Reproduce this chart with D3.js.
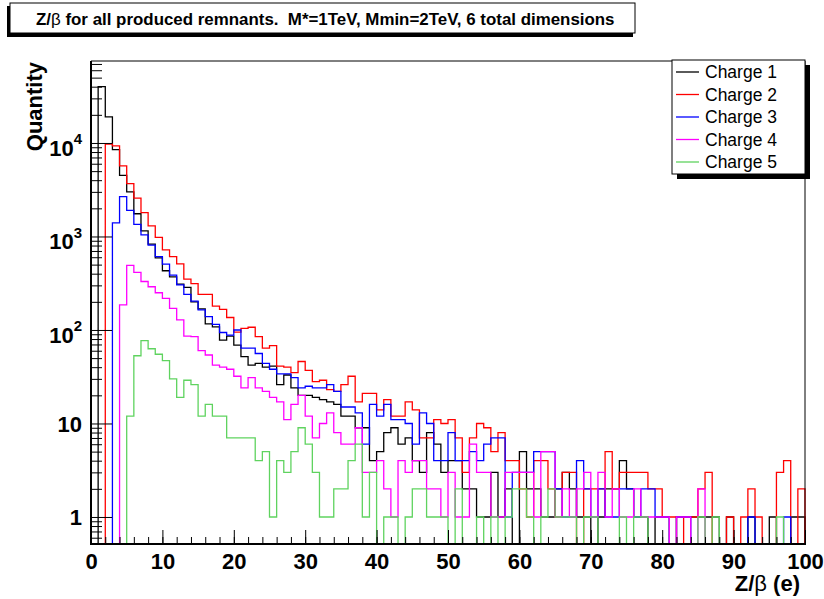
<!DOCTYPE html>
<html>
<head>
<meta charset="utf-8">
<script src="https://cdn.jsdelivr.net/npm/d3@7"></script>
<style>
body { margin: 0; background: #fff; }
svg { font-family: "Liberation Sans", Arial, Helvetica, sans-serif; }
</style>
</head>
<body>
<svg id="chart" width="824" height="599"></svg>
<script>
// counts per unit bin of Z/beta, bins 0..99
const charge1 = [0, 40000, 19000, 8500, 4500, 3000, 1750, 1150, 830, 590,
    430, 370, 310, 285, 200, 168, 116, 108, 78, 86,
    69, 52, 42, 44, 40, 41, 26, 33, 24, 20,
    20, 19, 18, 17, 16, 12, 12, 9, 9, 4,
    5, 8, 9, 6, 7, 4, 3, 8, 6, 3,
    4, 4, 2, 2, 1, 1, 3, 1, 2, 0,
    5, 2, 2, 1, 1, 2, 3, 2, 1, 1,
    0, 1, 2, 2, 4, 2, 1, 1, 0, 1,
    1, 0, 1, 1, 1, 1, 1, 1, 0, 1,
    0, 0, 1, 0, 0, 1, 0, 0, 1, 1];
const charge2 = [0, 0, 9700, 9300, 5700, 3670, 2570, 1800, 1300, 980,
    720, 610, 510, 350, 313, 240, 240, 180, 166, 136,
    95, 104, 107, 85, 64, 68, 41, 40, 35, 46,
    37, 28, 29, 23, 22, 26, 32, 17, 21, 21,
    14, 18, 12, 12, 17, 14, 7, 7, 11, 10,
    11, 7, 3, 7, 10, 9, 5, 8, 4, 4,
    2, 1, 4, 4, 2, 1, 3, 3, 0, 2,
    2, 2, 5, 2, 3, 3, 3, 3, 2, 2,
    1, 1, 0, 1, 1, 2, 3, 0, 0, 1,
    0, 1, 2, 1, 0, 0, 3, 4, 0, 2];
const charge3 = [0, 0, 0, 1400, 2670, 1900, 1350, 1040, 810, 608,
    505, 387, 303, 240, 204, 164, 139, 115, 94, 88,
    100, 64, 64, 56, 44, 38, 34, 34, 31, 24,
    25, 24, 24, 26, 22, 15, 15, 13, 6, 16,
    12, 16, 11, 11, 10, 6, 13, 10, 4, 4,
    8, 4, 4, 5, 4, 6, 7, 7, 1, 3,
    3, 3, 5, 5, 5, 2, 1, 1, 4, 2,
    1, 2, 1, 1, 2, 2, 1, 2, 2, 1,
    1, 0, 1, 1, 0, 0, 0, 0, 0, 0,
    0, 0, 1, 0, 0, 0, 0, 1, 0, 0];
const charge4 = [0, 0, 0, 0, 186, 490, 414, 330, 290, 250,
    218, 170, 128, 86, 85, 60, 54, 42, 40, 38,
    32, 24, 31, 24, 22, 19, 17, 11, 16, 20,
    12, 7, 10, 13, 8, 6, 6, 9, 3, 3,
    4, 2, 1, 4, 3, 4, 4, 2, 2, 1,
    3, 1, 1, 6, 3, 3, 1, 1, 3, 3,
    3, 3, 1, 5, 5, 1, 2, 1, 2, 3,
    1, 3, 1, 2, 1, 1, 2, 1, 1, 1,
    1, 0, 1, 1, 0, 2, 0, 0, 0, 0,
    0, 0, 0, 0, 0, 0, 0, 0, 0, 0];
const charge5 = [0, 0, 0, 0, 0, 12, 53, 77, 63, 55,
    47, 30, 19, 29, 26, 12, 16, 12, 12, 7,
    7, 7, 7, 4, 5, 1, 4, 3, 5, 9,
    6, 3, 1, 1, 2, 2, 4, 6, 1, 3,
    0, 1, 1, 0, 1, 2, 2, 1, 1, 1,
    0, 2, 0, 0, 1, 0, 1, 0, 1, 2,
    2, 1, 0, 1, 2, 1, 1, 1, 0, 1,
    1, 0, 0, 0, 1, 0, 1, 1, 0, 0,
    0, 0, 0, 0, 0, 1, 0, 1, 0, 0,
    0, 0, 0, 0, 0, 0, 1, 0, 0, 0];

const seriesNames = ["Charge 1", "Charge 2", "Charge 3", "Charge 4", "Charge 5"];
const seriesColors = ["#000000", "#ff0000", "#0000ff", "#ff00ff", "#5fd35f"];
const xTickLabels = [0, 10, 20, 30, 40, 50, 60, 70, 80, 90, 100];
const yTickValues = [1, 10, 100, 1000, 10000];
const yTickLabels = [["1", ""], ["10", ""], ["10", "2"], ["10", "3"], ["10", "4"]];

const allSeries = [charge1, charge2, charge3, charge4, charge5];

const svg = d3.select("#chart");
const frame = {left: 91, top: 61, right: 805, bottom: 544};
const yMin = 0.514, yMax = 75300;

const x = d3.scaleLinear().domain([0, 100]).range([frame.left, frame.right]);
const y = d3.scaleLog().domain([yMin, yMax]).range([frame.bottom, frame.top]);

// title box
svg.append("rect").attr("x", 7).attr("y", 6).attr("width", 626).attr("height", 31).attr("fill", "#000");
svg.append("rect").attr("x", 10).attr("y", 3).attr("width", 625).attr("height", 30)
    .attr("fill", "#fff").attr("stroke", "#000").attr("stroke-width", 1);
const title = svg.append("text").attr("x", 36).attr("y", 25)
    .attr("font-size", 16.9).attr("font-weight", "bold").style("white-space", "pre");
title.append("tspan").text("Z/");
title.append("tspan").attr("font-weight", "normal").text("β");
title.append("tspan").text(" for all produced remnants.  M*=1TeV, Mmin=2TeV, 6 total dimensions");

svg.append("clipPath").attr("id", "plotclip")
    .append("rect").attr("x", frame.left).attr("y", frame.top - 1)
    .attr("width", frame.right - frame.left + 1).attr("height", frame.bottom - frame.top + 1);

const plot = svg.append("g").attr("clip-path", "url(#plotclip)");

const yv = v => v > 0 ? y(Math.max(yMin, Math.min(yMax, v))) : frame.bottom;
const line = d3.line().x(d => d[0]).y(d => d[1]).curve(d3.curveStepAfter);

allSeries.forEach((vals, k) => {
    const pts = [[x(0), frame.bottom]];
    vals.forEach((v, i) => pts.push([x(i), yv(v)]));
    pts.push([x(100), yv(vals[vals.length - 1])]);
    pts.push([x(100), frame.bottom]);
    plot.append("path").attr("d", line(pts))
        .attr("fill", "none").attr("stroke", seriesColors[k]).attr("stroke-width", 1.3);
});

// frame top/right
svg.append("line").attr("x1", frame.left).attr("x2", frame.right).attr("y1", frame.top).attr("y2", frame.top)
    .attr("stroke", "#000").attr("stroke-width", 1);
svg.append("line").attr("x1", frame.right).attr("x2", frame.right).attr("y1", frame.top).attr("y2", frame.bottom)
    .attr("stroke", "#000").attr("stroke-width", 1);

// x axis
const xMinor = svg.append("g").attr("transform", `translate(0,${frame.bottom})`)
    .call(d3.axisBottom(x).tickValues(d3.range(0, 101, 2)).tickSize(-7).tickFormat(""));
const xMajor = svg.append("g").attr("transform", `translate(0,${frame.bottom})`)
    .call(d3.axisBottom(x).tickValues(xTickLabels).tickSize(-14).tickPadding(9).tickFormat(d3.format("d")));
xMajor.selectAll("text").attr("font-size", 22).attr("font-weight", "bold")
    .attr("font-family", "Liberation Sans, Arial, sans-serif").attr("fill", "#000");

// y axis
const yMinorVals = [];
[0.1, 1, 10, 100, 1000, 10000].forEach(dec => {
    for (let m = 2; m <= 9; m++) {
        const v = dec * m;
        if (v >= yMin && v <= yMax) yMinorVals.push(v);
    }
});
const yMinor = svg.append("g").attr("transform", `translate(${frame.left},0)`)
    .call(d3.axisLeft(y).tickValues(yMinorVals).tickSize(-11).tickFormat(""));
const yMajor = svg.append("g").attr("transform", `translate(${frame.left},0)`)
    .call(d3.axisLeft(y).tickValues(yTickValues).tickSize(-21).tickPadding(9).tickFormat(""));

yMajor.selectAll(".tick").each(function(d, i) {
    const lab = yTickLabels[i];
    const t = d3.select(this).select("text")
        .attr("font-size", 22).attr("font-weight", "bold")
        .attr("font-family", "Liberation Sans, Arial, sans-serif").attr("fill", "#000")
        .attr("dy", lab[1] ? "0.55em" : "0.36em");
    t.append("tspan").text(lab[0]);
    if (lab[1]) t.append("tspan").attr("font-size", 15).attr("dy", "-0.75em").text(lab[1]);
});

[xMinor, xMajor, yMinor, yMajor].forEach(g => {
    g.select(".domain").remove();
    g.selectAll(".tick line").attr("stroke", "#000").attr("stroke-width", 1);
});

svg.append("line").attr("x1", frame.left).attr("x2", frame.right + 1).attr("y1", frame.bottom).attr("y2", frame.bottom)
    .attr("stroke", "#000").attr("stroke-width", 2);
svg.append("line").attr("x1", frame.left).attr("x2", frame.left).attr("y1", frame.top).attr("y2", frame.bottom + 1)
    .attr("stroke", "#000").attr("stroke-width", 2);

// axis titles
const xTitle = svg.append("text").attr("x", 800).attr("y", 591).attr("text-anchor", "end")
    .attr("font-size", 22).attr("font-weight", "bold").style("white-space", "pre");
xTitle.append("tspan").text("Z/");
xTitle.append("tspan").attr("font-weight", "normal").text("β");
xTitle.append("tspan").text(" (e)");

svg.append("text").attr("transform", "translate(42,62) rotate(-90)").attr("text-anchor", "end")
    .attr("font-size", 22).attr("font-weight", "bold").text("Quantity");

// legend
const leg = {x: 672, y: 60, w: 133, h: 114};
svg.append("rect").attr("x", leg.x + 5).attr("y", leg.y + 5).attr("width", leg.w).attr("height", leg.h).attr("fill", "#000");
svg.append("rect").attr("x", leg.x).attr("y", leg.y).attr("width", leg.w).attr("height", leg.h)
    .attr("fill", "#fff").attr("stroke", "#000").attr("stroke-width", 1);
const rows = svg.append("g").selectAll("g").data(seriesNames).join("g")
    .attr("transform", (d, i) => `translate(0,${leg.y + 12 + i * 22.5})`);
rows.append("line").attr("x1", 676).attr("x2", 699).attr("y1", 0).attr("y2", 0)
    .attr("stroke", (d, i) => seriesColors[i]).attr("stroke-width", 1.3);
rows.append("text").attr("x", 705).attr("dy", "0.36em").attr("font-size", 17.5).text(d => d);
</script>
</body>
</html>
